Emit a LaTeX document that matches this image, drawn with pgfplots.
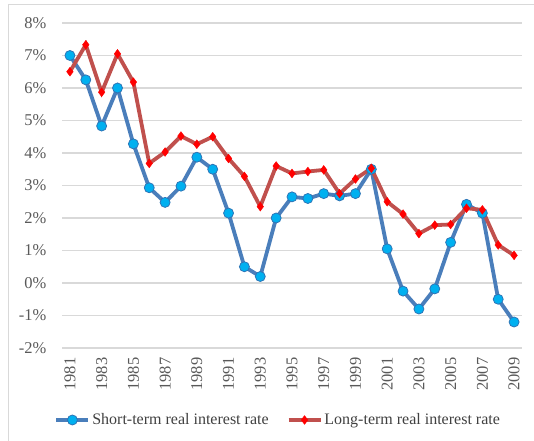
\documentclass[border=0pt]{standalone}
\usepackage{pgfplots}
\pgfplotsset{compat=1.18}
\usepackage{fontspec}
\setmainfont{Liberation Serif}
\definecolor{sblue}{HTML}{4A7EBB}
\definecolor{sfill}{HTML}{00B0F0}
\definecolor{sedge}{HTML}{2E75B6}
\definecolor{lred}{HTML}{C0504D}
\definecolor{gridc}{HTML}{D9D9D9}
\definecolor{tickc}{HTML}{595959}
\definecolor{legc}{HTML}{404040}
\begin{document}
\begin{tikzpicture}[x=1bp,y=1bp]
\path[use as bounding box] (0,0) rectangle (534,441);
\draw[gridc, line width=1bp] (8,0) -- (8,436) -- (534,436);
\begin{axis}[
  at={(62bp,93bp)}, anchor=south west,
  scale only axis, width=460bp, height=325bp,
  xmin=1980.5, xmax=2009.5, ymin=-2, ymax=8,
  xtick={1981,1983,...,2009},
  ytick={-2,-1,...,8},
  axis line style={draw=none},
  major tick length=0pt,
  ymajorgrids, grid style={gridc, line width=1.5bp},
  /pgf/number format/assume math mode=true,
  xticklabel={\pgfmathprintnumber[1000 sep={}]{\tick}},
  yticklabel={\pgfmathprintnumber{\tick}\%},
  xticklabel style={rotate=90, anchor=east, font=\fontsize{16.5bp}{18bp}\selectfont, text=tickc, xshift=-6bp},
  yticklabel style={font=\fontsize{16.5bp}{18bp}\selectfont, text=tickc, xshift=-12bp},
  legend columns=2,
  legend style={at={(0.47,-0.2215)}, anchor=center, draw=none, fill=none,
    font=\fontsize{16bp}{18bp}\selectfont, text=legc, inner sep=0pt,
    /tikz/every even column/.append style={column sep=16bp}},
  legend image code/.code={\draw[mark repeat=2,mark phase=2] plot coordinates {(0bp,0bp)(16bp,0bp)(32bp,0bp)};},
  clip=false,
]
\addplot[sblue, line width=3.8bp, mark=*, mark size=5bp, mark options={fill=sfill, draw=sedge, line width=0.8bp}] coordinates {
(1981,7.0) (1982,6.25) (1983,4.83) (1984,6.0) (1985,4.28) (1986,2.93) (1987,2.48) (1988,2.98) (1989,3.87) (1990,3.5)
(1991,2.15) (1992,0.5) (1993,0.2) (1994,2.0) (1995,2.65) (1996,2.6) (1997,2.75) (1998,2.68) (1999,2.75) (2000,3.5)
(2001,1.05) (2002,-0.25) (2003,-0.8) (2004,-0.18) (2005,1.25) (2006,2.42) (2007,2.15) (2008,-0.5) (2009,-1.2)
};
\addlegendentry{Short-term real interest rate}
\addplot[lred, line width=3.8bp, mark=diamond*, mark size=4.4bp, mark options={fill=red, draw=red, line width=0.4bp}] coordinates {
(1981,6.5) (1982,7.33) (1983,5.87) (1984,7.05) (1985,6.18) (1986,3.68) (1987,4.03) (1988,4.52) (1989,4.27) (1990,4.5)
(1991,3.83) (1992,3.28) (1993,2.35) (1994,3.6) (1995,3.37) (1996,3.43) (1997,3.48) (1998,2.75) (1999,3.2) (2000,3.53)
(2001,2.5) (2002,2.12) (2003,1.52) (2004,1.78) (2005,1.8) (2006,2.3) (2007,2.25) (2008,1.17) (2009,0.85)
};
\addlegendentry{Long-term real interest rate}
\end{axis}
\end{tikzpicture}
\end{document}
